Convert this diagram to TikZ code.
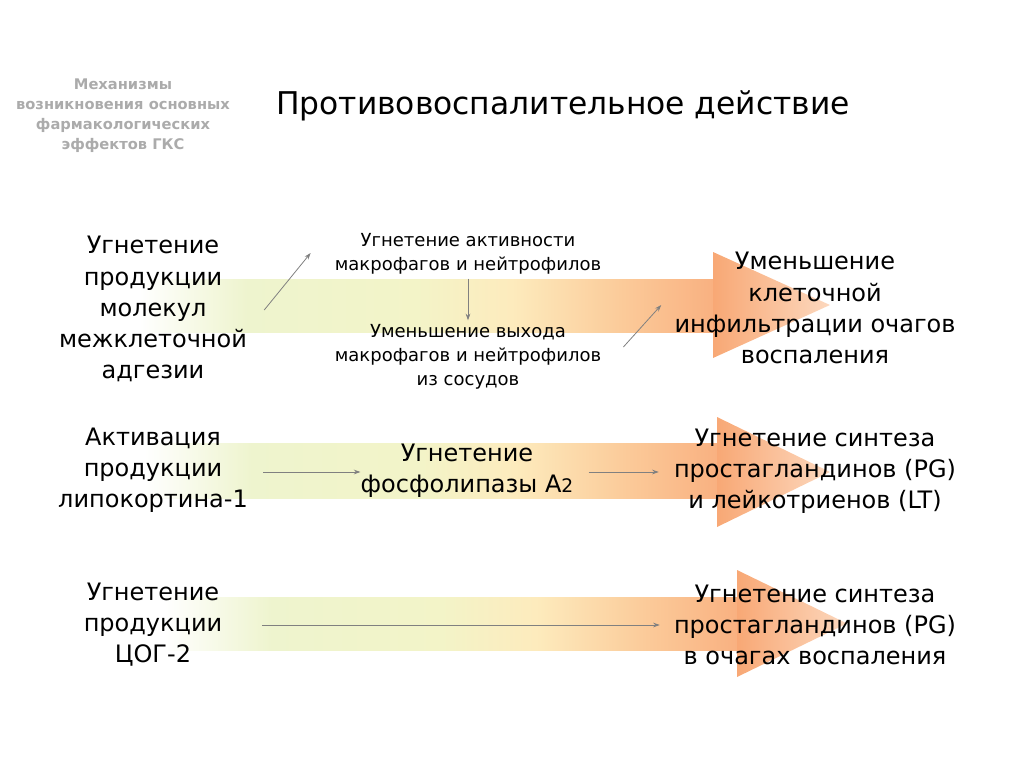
\documentclass[tikz,border=0pt]{standalone}
\usepackage{fontspec}
\setmainfont{DejaVu Sans}
\usetikzlibrary{arrows.meta,calc}
\definecolor{bgreen}{HTML}{EEF4CE}
\definecolor{bgreen2}{HTML}{F3F4C8}
\definecolor{byellow}{HTML}{FDEBBD}
\definecolor{borange1}{HTML}{FBCB9A}
\definecolor{borange2}{HTML}{F9B080}
\definecolor{hd1}{HTML}{F8A875}
\definecolor{hd2}{HTML}{FCD8BE}
\definecolor{greytxt}{HTML}{ABABAB}
\definecolor{conncol}{HTML}{808080}
\pgfdeclarehorizontalshading{bodyshade}{100bp}{color(0bp)=(white); color(25bp)=(white); color(27bp)=(white); color(36bp)=(bgreen); color(50bp)=(bgreen2); color(58bp)=(byellow); color(67bp)=(borange1); color(75bp)=(borange2); color(100bp)=(borange2)}
\tikzset{
  big/.style={inner sep=0pt, align=center, font=\fontsize{18}{23.3}\selectfont},
  small/.style={inner sep=0pt, align=center, font=\fontsize{13.5}{18}\selectfont},
  conn/.style={draw=conncol, line width=0.6pt, -{Stealth[length=5pt,width=3.5pt]}},
  body/.style={shading=bodyshade},
  head/.style={left color=hd1, right color=hd2}
}
\begin{document}
\begin{tikzpicture}[x=0.75pt,y=-0.75pt]
\useasboundingbox (0,0) rectangle (1024,767);
% arrows
\shade[body] (115,279) rectangle (716,332);
\shade[head] (713,252) -- (830,305) -- (713,358) -- cycle;
\shade[body] (120,443) rectangle (720,498);
\shade[head] (717,417) -- (830,472) -- (717,527) -- cycle;
\shade[body] (140,597) rectangle (740,650);
\shade[head] (737,570) -- (847,623.5) -- (737,677) -- cycle;
% texts
\node[inner sep=0pt, text=greytxt, align=center, font=\fontsize{11}{15}\selectfont\bfseries] (hdr) at (123,116) {Механизмы\\возникновения основных\\фармакологических\\эффектов ГКС};
\node[inner sep=0pt, font=\fontsize{23.5}{28}\selectfont] (title) at (563,106) {Противовоспалительное действие};
\node[big] (c1) at (153,309) {Угнетение\\продукции\\молекул\\межклеточной\\адгезии};
\node[big] (c2) at (153,470) {Активация\\продукции\\липокортина-1};
\node[big] (c3) at (153,625) {Угнетение\\продукции\\ЦОГ-2};
\node[small] (m1a) at (468,254) {Угнетение активности\\макрофагов и нейтрофилов};
\node[small] (m1b) at (468,357) {Уменьшение выхода\\макрофагов и нейтрофилов\\из сосудов};
\node[big] (m2) at (467,471) {Угнетение\\фосфолипазы A{\fontsize{14}{14}\selectfont 2}};
\node[big] (r1) at (815,308) {Уменьшение\\клеточной\\инфильтрации очагов\\воспаления};
\node[big] (r2) at (815,471) {Угнетение синтеза\\простагландинов (PG)\\и лейкотриенов (LT)};
\node[big] (r3) at (815,625) {Угнетение синтеза\\простагландинов (PG)\\в очагах воспаления};
% connectors
\draw[conn] ($(c1.east)+(17,1)$) -- ($(m1a.west)+(-24,-1)$);
\draw[conn] ($(m1a.south)+(0,4)$) -- ($(m1b.north)+(0,-4)$);
\draw[conn] ($(m1b.east)+(22,-10)$) -- ($(r1.west)+(-13,-3)$);
\draw[conn] ($(c2.east)+(15,2)$) -- ($(m2.west)+(0,1)$);
\draw[conn] ($(m2.east)+(15,1)$) -- ($(r2.west)+(-15,1)$);
\draw[conn] ($(c3.east)+(40,0)$) -- ($(r3.west)+(-14,0)$);
\end{tikzpicture}
\end{document}
